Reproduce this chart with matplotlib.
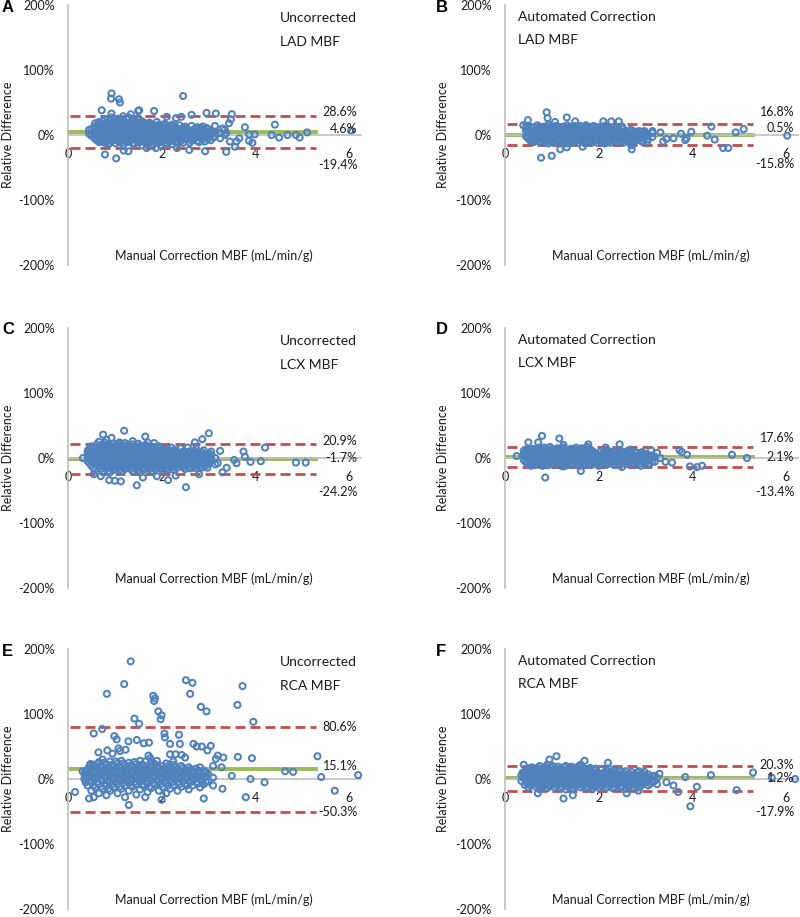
import matplotlib
matplotlib.use("Agg")
import matplotlib.pyplot as plt

plt.rcParams['font.family'] = ['Lato', 'DejaVu Sans']

BLUE = '#4F81BD'
RED = '#C0504D'
GREEN = '#9BBB59'
GRAY = '#BFBFBF'
TXT = '#1a1a1a'

letters = ['A', 'B', 'C', 'D', 'E', 'F']
methods = ['Uncorrected', 'Automated Correction'] * 3
vessels = ['LAD MBF', 'LAD MBF', 'LCX MBF', 'LCX MBF', 'RCA MBF', 'RCA MBF']
means = [4.6, 0.5, -1.7, 2.1, 15.1, 1.2]
upper = [28.6, 16.8, 20.9, 17.6, 80.6, 20.3]
lower = [-19.4, -15.8, -24.2, -13.4, -50.3, -17.9]
# where the value labels sit (in % units), as placed in the figure
lab_up = [35.4, 35.8, 26.6, 30.8, 80.0, 21.5]
lab_mid = [9.2, 10.3, -0.5, 1.5, 20.0, 1.5]
lab_low = [-46, -45, -52, -52, -50.8, -50.8]
xticks = [0, 2, 4, 6]
yticks = [-200, -100, 0, 100, 200]

# scattered points: (manual MBF, relative difference %)
pts_a = [
    (0.93, 64), (0.92, 56), (1.09, 55), (1.11, 50), (2.46, 60), (0.72, 38), (0.93, 33), (1.50, 37),
    (1.52, 38), (1.34, 32), (1.84, 37), (2.11, 28), (2.31, 26), (2.42, 28), (2.64, 31), (2.96, 34),
    (3.16, 33), (3.50, 32), (3.48, 24), (3.44, 18), (3.78, 12), (4.42, 16), (4.35, 0), (4.51, -4),
    (4.69, 0), (4.87, 0), (4.95, -4), (5.11, 4), (6.05, 7), (3.87, 1), (3.99, 1), (3.87, -9),
    (3.94, -12), (3.66, -5), (3.57, -18), (3.38, -26), (2.93, -25), (2.59, -23), (2.33, -20),
    (1.29, -25), (1.19, -24), (0.79, -30), (1.03, -36), (1.68, -20), (1.88, -20), (3.46, -10),
    (3.60, -10), (3.30, 10), (3.38, 3),
]
# dense core, read column by column: (x, [y values])
cols_a = [
    (0.45, [2, 8]), (0.50, [-1, 9]), (0.55, [-3, 5, 12]), (0.58, [-6, 3, 10, 18]),
    (0.62, [-8, 0, 7, 15]), (0.66, [-11, -4, 4, 12, 20]), (0.70, [-10, -3, 4, 11, 18]),
    (0.74, [-8, -1, 7, 14, 21]), (0.78, [-12, -5, 2, 9, 16, 24]), (0.82, [-10, -3, 4, 11, 18]),
    (0.86, [-14, -7, 0, 6, 13, 20]), (0.90, [-12, -5, 2, 9, 16, 23]),
    (0.94, [-9, -2, 5, 12, 19, 27]), (0.98, [-7, 0, 7, 14, 21]), (1.02, [-13, -6, 1, 8, 15, 22]),
    (1.06, [-9, -2, 5, 12, 19]), (1.10, [-10, -3, 4, 11, 18, 25]),
    (1.14, [-12, -5, 2, 9, 16, 23]), (1.18, [-15, -7, 0, 7, 14, 21, 29]),
    (1.22, [-8, -1, 6, 13, 20]), (1.26, [-11, -4, 3, 10, 17, 24]),
    (1.30, [-10, -3, 4, 11, 18, 27]), (1.34, [-8, -1, 6, 13, 20]),
    (1.38, [-13, -6, 1, 8, 15, 22]), (1.42, [-13, -5, 2, 9, 16, 23]), (1.46, [-8, -1, 6, 13, 20]),
    (1.50, [-10, -3, 4, 11, 18, 26]), (1.54, [-11, -4, 3, 10, 17]),
    (1.58, [-16, -7, 0, 7, 14, 21]), (1.62, [-9, -2, 5, 12, 19]), (1.66, [-12, -4, 3, 10, 17]),
    (1.70, [-13, -6, 1, 8, 15]), (1.74, [-9, -2, 5, 12, 19]), (1.78, [-10, -3, 4, 11, 17]),
    (1.82, [-14, -6, 1, 8, 15]), (1.86, [-8, -1, 6, 13]), (1.90, [-11, -3, 4, 11, 20]),
    (1.94, [-12, -5, 2, 9, 16]), (1.98, [-16, -7, 0, 7, 14]), (2.02, [-9, -2, 5, 12]),
    (2.06, [-12, -4, 3, 10, 17]), (2.10, [-13, -6, 1, 8, 15]), (2.14, [-9, -1, 6, 13]),
    (2.18, [-10, -3, 4, 11]), (2.22, [-14, -5, 2, 9, 16]), (2.26, [-7, 0, 7, 14]),
    (2.30, [-10, -2, 5, 12]), (2.34, [-12, -4, 3, 10]), (2.38, [-7, 1, 8, 15]),
    (2.42, [-9, -1, 6]), (2.46, [-12, -3, 4, 11]), (2.50, [-5, 2, 8, 13]), (2.55, [-6, 2, 9]),
    (2.60, [-12, -3, 4]), (2.64, [-9, 0, 6, 14]), (2.68, [-7, 1, 8]), (2.72, [-4, 3, 10]),
    (2.76, [-9, -1, 6, 12]), (2.80, [-11, -2, 5]), (2.84, [-5, 3, 10]), (2.88, [-7, 1, 8, 13]),
    (2.92, [-10, -1, 7]), (2.96, [-3, 4, 11]), (3.00, [-5, 2, 9]), (3.05, [-8, 0, 6]),
    (3.10, [-4, 3]), (3.14, [-2, 5, 14]), (3.25, [-5, 3]), (3.35, [0, 8]),
]

pts_b = [
    (0.89, 35), (0.91, 26), (0.49, 23), (1.07, 20), (1.32, 27), (1.50, 21), (2.10, 21), (2.27, 21),
    (2.43, 21), (2.50, 13), (0.77, -35), (1.00, -32), (1.18, -22), (1.32, -19), (1.66, -18),
    (2.71, -22), (2.70, -16), (4.41, 13), (4.32, -1), (4.48, -7), (4.66, -20), (4.77, -20),
    (4.93, 4), (5.10, 9), (6.03, -1), (3.98, 5), (3.76, 2), (3.85, -8), (3.88, -5), (3.60, -5),
    (3.45, -6), (3.38, -10), (3.04, -10), (3.32, 4), (2.98, 6), (0.39, 15), (2.80, 5), (3.15, 6),
]
cols_b = [
    (0.45, [-2, 6, 12]), (0.49, [-5, 3, 10]), (0.53, [-8, 0, 8]), (0.57, [-10, -3, 5, 12]),
    (0.61, [-11, -4, 4, 11]), (0.65, [-8, 0, 7]), (0.69, [-7, 1, 9, 15]),
    (0.73, [-10, -2, 6, 13]), (0.77, [-12, -5, 3, 10]), (0.81, [-7, 0, 8]),
    (0.85, [-9, -1, 6, 13]), (0.89, [-11, -4, 4, 11]), (0.93, [-13, -6, 2, 9, 16]),
    (0.97, [-8, -1, 6, 13]), (1.01, [-10, -3, 5, 12]), (1.05, [-12, -5, 2, 10]),
    (1.09, [-7, 0, 8, 14]), (1.13, [-9, -2, 5, 12]), (1.17, [-12, -4, 3, 10]), (1.21, [-7, 0, 7]),
    (1.25, [-9, -2, 6, 13]), (1.29, [-11, -4, 3, 10]), (1.33, [-13, -6, 1, 8, 15]),
    (1.37, [-8, -1, 6, 12]), (1.41, [-10, -3, 4, 11]), (1.45, [-12, -5, 2, 9]),
    (1.49, [-7, 0, 7, 14]), (1.53, [-9, -2, 5, 11]), (1.57, [-12, -5, 2, 9]),
    (1.61, [-7, 0, 7, 14]), (1.65, [-9, -1, 6, 12]), (1.69, [-11, -4, 3, 10]),
    (1.73, [-13, -6, 1, 8, 15]), (1.77, [-8, -1, 6, 13]), (1.81, [-10, -3, 4, 11]),
    (1.85, [-12, -5, 2, 9]), (1.89, [-7, 0, 7, 14]), (1.93, [-9, -2, 5, 12]),
    (1.97, [-12, -4, 3, 10]), (2.01, [-7, 0, 7]), (2.05, [-9, -2, 5, 12]),
    (2.09, [-11, -4, 3, 10]), (2.13, [-13, -6, 1, 8, 14]), (2.17, [-8, -1, 6, 12]),
    (2.21, [-10, -3, 4, 11]), (2.25, [-12, -5, 2, 9]), (2.29, [-7, 0, 7]), (2.33, [-9, -2, 5]),
    (2.37, [-11, -4, 3, 10]), (2.41, [-6, 1, 8]), (2.45, [-8, -1, 6]), (2.49, [-10, -3, 4]),
    (2.53, [-12, -5, 2, 9]), (2.57, [-7, 0, 6]), (2.61, [-9, -2, 5]), (2.65, [-11, -4, 3]),
    (2.69, [-6, 1, 8]), (2.73, [-8, -1, 6]), (2.77, [-10, -3, 4]), (2.82, [-5, 2]),
    (2.86, [-7, 0, 6]), (2.91, [-9, -1, 5]), (2.95, [-11, -4, 2]), (3.00, [-3, 3]),
    (3.05, [-6, 1]), (3.15, [-3, 3]),
]

pts_c = [
    (0.75, 36), (1.20, 42), (0.93, 31), (1.65, 33), (1.38, 26), (1.10, 24), (1.84, 23), (0.43, 12),
    (0.32, 0), (2.05, 14), (2.21, 16), (2.71, 24), (2.87, 29), (3.01, 38), (2.56, 16), (2.41, 15),
    (3.25, 11), (3.75, 10), (3.78, 2), (4.21, 16), (3.55, -3), (3.60, -8), (3.90, -6), (4.12, -5),
    (4.87, -7), (5.08, -7), (3.20, -8), (3.39, -15), (0.88, -34), (1.00, -35), (1.13, -36),
    (1.47, -42), (2.14, -34), (2.52, -45), (0.70, -28), (1.60, -30), (1.90, -28), (2.30, -27),
    (2.80, -25), (3.30, -22), (0.55, -25),
]
cols_c = [
    (0.42, [-5, 3, 10]), (0.46, [-8, 0, 7, 14]), (0.50, [-12, -4, 4, 11, 18]),
    (0.54, [-15, -7, 1, 9, 16]), (0.58, [-18, -9, -1, 7, 14]), (0.62, [-11, -3, 5, 13, 21]),
    (0.66, [-14, -6, 2, 10, 17, 25]), (0.70, [-17, -8, 0, 9, 17]),
    (0.74, [-20, -11, -3, 5, 13, 20]), (0.78, [-14, -6, 2, 10, 18, 24]),
    (0.82, [-16, -8, 0, 8, 16, 28]), (0.86, [-20, -11, -3, 5, 13, 21]),
    (0.90, [-22, -13, -5, 3, 11, 19]), (0.94, [-16, -8, 0, 8, 16]),
    (0.98, [-18, -10, -2, 6, 14, 22]), (1.02, [-13, -5, 3, 11, 19]),
    (1.06, [-15, -7, 1, 9, 17]), (1.10, [-18, -10, -2, 6, 14, 22]),
    (1.14, [-21, -12, -4, 4, 12, 20]), (1.18, [-15, -7, 1, 9, 17]),
    (1.22, [-17, -9, -1, 7, 15, 23]), (1.26, [-12, -4, 4, 12, 20]),
    (1.30, [-14, -6, 2, 10, 18]), (1.34, [-17, -9, -1, 7, 15]),
    (1.38, [-20, -11, -3, 5, 13, 21]), (1.42, [-14, -6, 2, 10, 18]),
    (1.46, [-16, -8, 0, 8, 16]), (1.50, [-19, -11, -3, 5, 13, 22]),
    (1.54, [-22, -13, -5, 3, 11, 19]), (1.58, [-16, -8, 0, 8, 16]),
    (1.62, [-18, -10, -2, 6, 14]), (1.66, [-12, -4, 4, 12, 20]),
    (1.70, [-15, -7, 1, 9, 17, 24]), (1.74, [-17, -9, -1, 7, 15]),
    (1.78, [-20, -12, -4, 4, 12]), (1.82, [-14, -6, 2, 10, 17]), (1.86, [-17, -9, -1, 7, 15]),
    (1.90, [-11, -3, 5, 13]), (1.94, [-14, -6, 2, 10, 18]), (1.98, [-16, -8, 0, 8, 16]),
    (2.02, [-19, -11, -3, 5, 13]), (2.06, [-13, -5, 3, 11]), (2.10, [-16, -8, 0, 8]),
    (2.14, [-18, -10, -2, 6, 13]), (2.18, [-13, -5, 3, 11]), (2.22, [-15, -7, 1, 9]),
    (2.26, [-18, -10, -2, 6, 12]), (2.30, [-12, -4, 4, 12]), (2.34, [-15, -7, 1, 9]),
    (2.38, [-9, -1, 7]), (2.42, [-12, -4, 4]), (2.46, [-14, -6, 2, 10]),
    (2.50, [-17, -9, -1, 7]), (2.54, [-11, -3, 5]), (2.58, [-14, -6, 2, 10]),
    (2.62, [-16, -8, 0, 8]), (2.66, [-11, -3, 5]), (2.70, [-13, -5, 3, 11]),
    (2.74, [-16, -8, 0, 8, 14]), (2.78, [-10, -2, 6]), (2.82, [-13, -5, 3]),
    (2.86, [-15, -7, 1, 9]), (2.90, [-10, -2, 6, 12]), (2.94, [-12, -4, 4]),
    (2.98, [-15, -7, 1]), (3.02, [-8, 0, 7]), (3.06, [-4, 4, 10]), (3.15, [-10, 0]),
]

pts_d = [
    (0.25, 3), (0.79, 34), (0.71, 24), (0.50, 24), (1.16, 30), (1.25, 20), (0.86, -30), (1.62, -20),
    (0.55, -12), (1.25, -13), (1.78, 21), (2.45, 21), (2.15, 16), (2.50, -14), (3.07, -11),
    (3.12, 12), (3.25, 8), (2.69, 13), (3.32, 0), (3.43, -6), (3.57, -7), (3.73, 12), (3.78, 9),
    (3.89, 5), (3.95, -13), (4.10, -14), (4.21, -12), (4.85, 5), (5.17, 0), (2.88, 5), (2.90, -12),
]
cols_d = [
    (0.40, [-3, 5, 11]), (0.44, [-6, 2, 9]), (0.48, [-9, -1, 7, 14]), (0.52, [-4, 4, 11]),
    (0.56, [-6, 2, 10]), (0.60, [-9, -1, 7, 14]), (0.64, [-11, -3, 5, 13]), (0.68, [-6, 2, 10]),
    (0.72, [-8, 0, 8, 16]), (0.76, [-10, -2, 6, 13]), (0.80, [-12, -4, 4, 11]),
    (0.84, [-7, 1, 9, 16]), (0.88, [-9, -1, 7, 14]), (0.92, [-11, -3, 5, 12]),
    (0.96, [-6, 2, 10, 17]), (1.00, [-8, 0, 8, 14]), (1.04, [-11, -3, 5, 12]),
    (1.08, [-5, 3, 10]), (1.12, [-8, 0, 8, 15]), (1.16, [-10, -2, 6, 13]),
    (1.20, [-12, -4, 3, 11]), (1.24, [-7, 1, 9, 16]), (1.28, [-9, -1, 7, 14]),
    (1.32, [-11, -3, 5, 12]), (1.36, [-6, 2, 10]), (1.40, [-8, 0, 8, 14]),
    (1.44, [-11, -3, 5, 13]), (1.48, [-5, 3, 11]), (1.52, [-8, 0, 8, 16]),
    (1.56, [-10, -2, 6, 13]), (1.60, [-12, -4, 4, 11]), (1.64, [-7, 1, 9, 15]),
    (1.68, [-9, -1, 7, 14]), (1.72, [-11, -3, 5, 12]), (1.76, [-6, 2, 10, 17]),
    (1.80, [-8, 0, 8, 14]), (1.84, [-11, -3, 5, 12]), (1.88, [-5, 3, 10]), (1.92, [-8, 0, 8]),
    (1.96, [-9, -1, 6]), (2.00, [-12, -4, 3]), (2.05, [-11, -3, 4, 10]), (2.10, [-6, 1, 8]),
    (2.14, [-8, -1, 6]), (2.18, [-10, -2, 5, 12]), (2.22, [-5, 3, 10]), (2.26, [-7, 1, 9]),
    (2.30, [-9, -1, 6]), (2.34, [-11, -3, 4, 11]), (2.38, [-6, 2, 9]), (2.42, [-8, 0, 7]),
    (2.46, [-10, -2, 5]), (2.50, [-5, 3, 10]), (2.54, [-7, 1, 8]), (2.58, [-9, -1, 6]),
    (2.62, [-4, 4, 11]), (2.66, [-6, 2, 9]), (2.70, [-8, 0, 7]), (2.74, [-10, -2, 5]),
    (2.78, [-5, 3, 9]), (2.82, [-7, 1, 8]), (2.87, [-9, -1, 5]), (2.92, [-4, 3, 9]),
    (2.96, [-6, 1, 7]), (3.00, [-8, 0, 6]), (3.05, [-10, -2, 3]), (3.10, [-3, 4]),
    (3.15, [-5, 1]), (3.20, [-6, 2]),
]

pts_e = [
    (1.34, 181), (1.20, 146), (0.83, 131), (2.52, 152), (2.66, 148), (2.61, 131), (1.82, 128),
    (1.86, 124), (1.84, 120), (1.93, 104), (2.00, 98), (1.98, 92), (2.84, 111), (2.96, 104),
    (3.62, 114), (3.73, 143), (3.96, 88), (1.42, 93), (1.52, 85), (0.73, 77), (0.55, 70),
    (0.99, 66), (1.04, 61), (1.29, 58), (1.47, 60), (1.62, 55), (1.73, 56), (2.06, 70), (2.07, 64),
    (2.37, 68), (2.39, 54), (2.18, 54), (2.68, 54), (2.75, 50), (2.86, 50), (3.05, 51), (2.98, 44),
    (1.08, 47), (1.11, 43), (1.23, 45), (0.84, 44), (0.65, 41), (0.95, 39), (3.20, 36), (3.32, 33),
    (3.16, 31), (3.63, 34), (3.93, 32), (5.33, 35), (4.64, 12), (4.81, 11), (5.41, 3), (6.20, 6),
    (0.31, 12), (0.48, 23), (0.65, 24), (1.76, 32), (1.72, 36), (1.65, 27), (2.18, 38), (2.30, 38),
    (2.43, 37), (2.50, 33), (2.25, 27), (2.82, 18), (3.10, 20), (3.28, 18), (1.30, -40),
    (0.15, -20), (1.65, -28), (3.80, -28), (5.70, -18), (0.55, -28), (2.00, -32), (2.90, -30),
    (3.30, -15), (3.50, 5), (3.90, 0), (4.20, -5), (0.45, -30),
]
cols_e = [
    (0.35, [0, 8]), (0.38, [-5, 4, 12]), (0.42, [-10, 3, 15]), (0.46, [-3, 9, 20]),
    (0.50, [-18, -5, 6, 17]), (0.54, [-10, 1, 12, 22]), (0.58, [-13, 0, 10, 20]),
    (0.62, [-5, 5, 16]), (0.66, [-22, -8, 4, 14, 26]), (0.70, [-12, 0, 10, 21]),
    (0.74, [-15, -2, 9, 19, 30]), (0.78, [-7, 4, 14, 25]), (0.82, [-25, -10, 2, 12, 22]),
    (0.86, [-15, -3, 8, 18]), (0.90, [-18, -5, 6, 16, 27]), (0.94, [-8, 2, 12, 22]),
    (0.98, [-12, 0, 10, 20]), (1.02, [-4, 6, 16, 27]), (1.06, [-22, -8, 3, 13, 24]),
    (1.10, [-12, -1, 9, 19]), (1.14, [-15, -3, 7, 17, 28]), (1.18, [-6, 4, 14, 24]),
    (1.22, [-28, -10, 1, 11, 21]), (1.26, [-2, 8, 18]), (1.30, [-18, -6, 5, 15, 25]),
    (1.34, [-10, 1, 11, 21]), (1.38, [-12, 0, 9, 19]), (1.42, [-5, 5, 15, 26]),
    (1.46, [-24, -8, 3, 13, 23]), (1.50, [-1, 9, 19]), (1.54, [-16, -4, 7, 17, 28]),
    (1.58, [-9, 2, 12, 22]), (1.62, [-10, 1, 11, 21]), (1.66, [-4, 6, 16]),
    (1.70, [-20, -6, 5, 15]), (1.74, [-12, 0, 10, 20]), (1.78, [-14, -2, 9, 19, 26]),
    (1.82, [-6, 4, 14]), (1.86, [-8, 3, 13, 23]), (1.90, [-2, 8, 18, 28]),
    (1.94, [-18, -4, 7, 17]), (1.98, [-8, 2, 12]), (2.02, [-12, 0, 10, 20]), (2.06, [-4, 6, 16]),
    (2.10, [-22, -6, 4, 14, 24]), (2.14, [-10, 1, 11, 20]), (2.18, [-15, -2, 8, 18]),
    (2.22, [-5, 5, 15]), (2.26, [-9, 2, 12, 22]), (2.30, [-1, 9, 19]), (2.34, [-18, -5, 6, 16]),
    (2.38, [-8, 2, 12]), (2.42, [-12, 0, 10, 20]), (2.46, [-3, 7, 17]), (2.50, [-7, 4, 14]),
    (2.54, [-10, 1, 11]), (2.58, [-16, -3, 8, 18]), (2.62, [-5, 5, 15]), (2.66, [-10, 1, 12]),
    (2.70, [-1, 9]), (2.74, [-5, 5, 16]), (2.78, [-7, 3, 12]), (2.82, [-13, 0, 9]),
    (2.86, [-3, 6]), (2.90, [-8, 3, 13]), (2.95, [-5, 4, 10]), (3.00, [-3, 7]), (3.10, [-10, 2]),
]

pts_f = [
    (1.10, 35), (0.95, 30), (1.70, 28), (2.20, 25), (0.40, 22), (1.45, -25), (1.25, -30),
    (2.60, -22), (3.30, 8), (3.45, -5), (3.60, -10), (3.96, -42), (3.70, -20), (4.40, 6),
    (4.95, -17), (5.30, 10), (5.70, 2), (6.20, 0), (4.10, -12), (3.85, 3), (2.85, -18), (0.70, -22),
]
cols_f = [
    (0.35, [-3, 6]), (0.38, [2, 10]), (0.42, [-9, 2, 11]), (0.46, [-6, 3, 12]),
    (0.50, [-13, -4, 5, 14]), (0.54, [-10, -1, 8, 17]), (0.58, [-8, 1, 10, 18]),
    (0.62, [-5, 4, 13]), (0.66, [-12, -3, 6, 15]), (0.70, [-9, 0, 9, 17]),
    (0.74, [-16, -7, 2, 11, 20]), (0.78, [-12, -4, 5, 14]), (0.82, [-11, -2, 7, 16]),
    (0.86, [-8, 1, 10, 19]), (0.90, [-14, -5, 4, 13, 22]), (0.94, [-11, -2, 7, 15]),
    (0.98, [-9, 0, 9, 18]), (1.02, [-6, 3, 12, 20]), (1.06, [-13, -4, 5, 14]),
    (1.10, [-10, -1, 8, 16]), (1.14, [-8, 1, 10, 19]), (1.18, [-14, -5, 4, 13]),
    (1.22, [-12, -3, 6, 15]), (1.26, [-9, 0, 9, 18]), (1.30, [-16, -7, 2, 11, 20]),
    (1.34, [-12, -4, 5, 14]), (1.38, [-10, -1, 8, 17]), (1.42, [-8, 1, 10, 19]),
    (1.46, [-14, -5, 4, 13]), (1.50, [-11, -2, 7, 15]), (1.54, [-9, 0, 9, 18]),
    (1.58, [-6, 3, 12, 20]), (1.62, [-13, -4, 5, 14, 22]), (1.66, [-10, -1, 8, 16]),
    (1.70, [-8, 1, 10]), (1.74, [-14, -5, 4, 13]), (1.78, [-12, -3, 6, 15]),
    (1.82, [-9, 0, 9, 17]), (1.86, [-16, -7, 2, 11]), (1.90, [-12, -4, 5, 14]),
    (1.94, [-11, -2, 7, 16]), (1.98, [-8, 1, 10]), (2.02, [-14, -5, 4]),
    (2.06, [-11, -2, 7, 15]), (2.10, [-9, 0, 9]), (2.14, [-6, 3, 11]),
    (2.18, [-13, -4, 5, 13]), (2.22, [-10, -1, 8, 16]), (2.26, [-8, 1, 10]),
    (2.30, [-14, -5, 4, 12]), (2.34, [-12, -3, 6, 14]), (2.38, [-9, 0, 8]),
    (2.42, [-7, 2, 11]), (2.46, [-12, -4, 5, 13]), (2.50, [-11, -2, 7]), (2.54, [-7, 1, 9]),
    (2.58, [-15, -6, 3, 12]), (2.62, [-11, -2, 6]), (2.66, [-10, -1, 8]), (2.70, [-6, 3, 11]),
    (2.74, [-13, -4, 5]), (2.78, [-10, -1, 7]), (2.82, [-8, 1, 10]), (2.86, [-13, -4, 4, 12]),
    (2.90, [-11, -2, 6]), (2.94, [-8, 0, 8]), (2.98, [-6, 3, 11]), (3.02, [-4, 4]),
    (3.06, [-10, 0, 7]), (3.10, [-7, 2]), (3.15, [-5, 4]), (3.20, [-3, 5]), (3.25, [-8, 2]),
]

panel_pts = [pts_a, pts_b, pts_c, pts_d, pts_e, pts_f]
panel_cols = [cols_a, cols_b, cols_c, cols_d, cols_e, cols_f]

W, H = 800, 917
col_px = [68, 505]
row_px = [5, 328, 649]
AW, AH = 292.5, 260

fig = plt.figure(figsize=(W / 100, H / 100), dpi=100)

for i in range(6):
    r, c = divmod(i, 2)
    left, top = col_px[c], row_px[r]
    ax = fig.add_axes([left / W, 1 - (top + AH) / H, AW / W, AH / H])
    ax.set_xlim(0, 6.25)
    ax.set_ylim(-200, 200)
    for s in ['top', 'right']:
        ax.spines[s].set_visible(False)
    ax.spines['bottom'].set_position(('data', 0))
    for s in ['left', 'bottom']:
        ax.spines[s].set_color(GRAY)
        ax.spines[s].set_linewidth(1.2)
    ax.set_xticks(xticks)
    ax.set_yticks(yticks)
    ax.set_yticklabels([f'{v}%' for v in yticks])
    ax.tick_params(axis='both', length=0, pad=9.5, labelsize=9, labelcolor=TXT)

    ax.plot([0.05, 5.3], [means[i]] * 2, color=GREEN, lw=2.8, zorder=2)
    for v in (upper[i], lower[i]):
        ax.plot([0.05, 5.3], [v, v], color=RED, lw=2, ls=(0, (3.6, 1.8)), zorder=2)

    xs = [p[0] for p in panel_pts[i]]
    ys = [p[1] for p in panel_pts[i]]
    for x, col in panel_cols[i]:
        xs += [x] * len(col)
        ys += col
    ax.scatter(xs, ys, s=19, facecolors='none', edgecolors=BLUE, linewidths=1.45,
               zorder=3, clip_on=False)

    ax.text(6.18, lab_up[i], f'{upper[i]:.1f}%', ha='right', va='center', fontsize=9, color=TXT)
    ax.text(6.18, lab_mid[i], f'{means[i]:.1f}%', ha='right', va='center', fontsize=9, color=TXT)
    ax.text(6.18, lab_low[i], f'{lower[i]:.1f}%', ha='right', va='center', fontsize=9, color=TXT)

    if c == 0:
        ax.text(4.53, 180, methods[i], fontsize=10, va='center', color=TXT)
        ax.text(4.53, 143, vessels[i], fontsize=10, va='center', color=TXT)
    else:
        ax.text(0.28, 182, methods[i], fontsize=10, va='center', color=TXT)
        ax.text(0.28, 146, vessels[i], fontsize=10, va='center', color=TXT)

    ax.text(3.12, -186, 'Manual Correction MBF (mL/min/g)', ha='center', va='center',
            fontsize=9, color=TXT)
    ax.set_ylabel('Relative Difference', fontsize=9, color=TXT)
    ax.yaxis.set_label_coords(-0.185 if c == 0 else -0.19, 0.5)

    fig.text((left - 66) / W if c == 0 else (left - 69) / W, 1 - (top + 2) / H, letters[i],
             fontsize=12, fontweight='bold', va='center', ha='left',
             family=['Liberation Sans', 'DejaVu Sans'])

fig.savefig('out.png', dpi=100)
